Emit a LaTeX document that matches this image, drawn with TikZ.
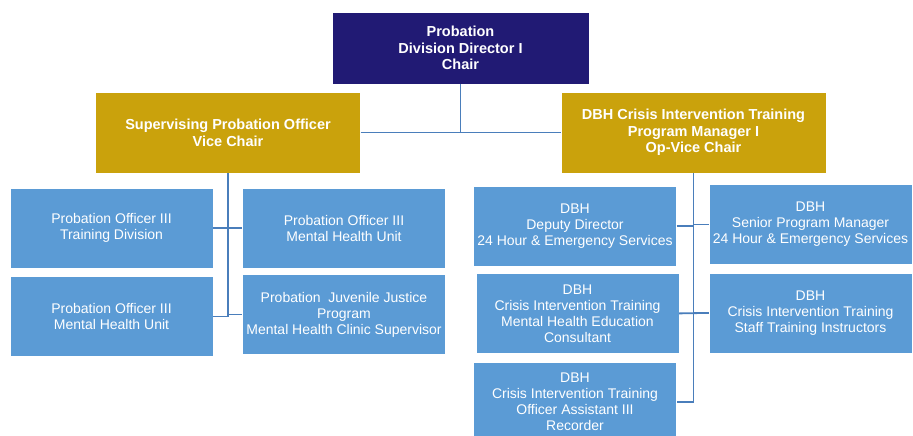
\documentclass[tikz,border=0pt]{standalone}
\usepackage{fontspec}
\setmainfont{Liberation Sans}
\usetikzlibrary{positioning}

\definecolor{chairblue}{RGB}{33,26,116}
\definecolor{vicegold}{RGB}{202,162,12}
\definecolor{staffblue}{RGB}{91,155,213}
\definecolor{linkblue}{RGB}{74,126,187}

\begin{document}
\begin{tikzpicture}[x=1pt,y=-1pt]
	\tikzset{
		chairnode/.style={rectangle, fill=chairblue, draw=white, text=white, align=center, inner sep=0pt, font=\bfseries\fontsize{14.5}{16.7}\selectfont, minimum width=257pt, minimum height=72pt},
		vicenode/.style={rectangle, fill=vicegold, draw=white, text=white, align=center, inner sep=0pt, font=\bfseries\fontsize{14.5}{16.7}\selectfont, minimum width=265pt, minimum height=81pt},
		staffnode/.style={rectangle, fill=staffblue, draw=white, text=white, align=center, inner sep=0pt, font=\fontsize{14}{16}\selectfont, minimum width=203pt, minimum height=80pt},
		link/.style={draw=linkblue, line width=1.8pt},
	}
	\useasboundingbox (0,0) rectangle (913,436);

	\node[chairnode] (chair) at (460.5,48) {Probation\\Division Director I\\Chair};

	\node[vicenode] (vice) at (228,132.5) {Supervising Probation Officer\\Vice Chair};
	\node[vicenode] (opvice) at (693.5,132.5) {DBH Crisis Intervention Training\\Program Manager I\\Op-Vice Chair};

	\draw[link] (chair.south) -- (chair.south |- vice.east);
	\draw[link] (vice.east) -- (opvice.west);

	% probation side
	\node[staffnode] (potrain) at (111.5,228) {Probation Officer III\\Training Division};
	\node[staffnode, below = 8pt of potrain] (pomhu) {Probation Officer III\\Mental Health Unit};
	\node[staffnode] (pomhutwo) at (344,228) {Probation Officer III\\Mental Health Unit};
	\node[staffnode, below = 6pt of pomhutwo] (juvenile) {Probation~ Juvenile Justice\\Program\\Mental Health Clinic Supervisor};

	\draw[link] (vice.south) |- (pomhu.east);
	\draw[link] (vice.south |- juvenile.west) -- (juvenile.west);
	\draw[link] (potrain.east) -- (pomhutwo.west);

	% DBH side
	\node[staffnode] (deputy) at (575,226) {DBH\\Deputy Director\\24 Hour \& Emergency Services};
	\node[staffnode, below = 7pt of deputy, xshift=2.5pt] (consult) {DBH\\Crisis Intervention Training\\Mental Health Education\\Consultant};
	\node[staffnode, below = 8pt of consult, xshift=-2.5pt] (recorder) {DBH\\Crisis Intervention Training\\Officer Assistant III\\Recorder};
	\node[staffnode] (senior) at (810.5,224.5) {DBH\\Senior Program Manager\\24 Hour \& Emergency Services};
	\node[staffnode, below = 8pt of senior] (instruct) {DBH\\Crisis Intervention Training\\Staff Training Instructors};

	\draw[link] (opvice.south) |- (recorder.east);
	\draw[link] (deputy.east) -- (deputy.east -| opvice.south);
	\draw[link] (senior.west) -- (senior.west -| opvice.south);
	\draw[link] (consult.east) -- (instruct.west);
\end{tikzpicture}
\end{document}
